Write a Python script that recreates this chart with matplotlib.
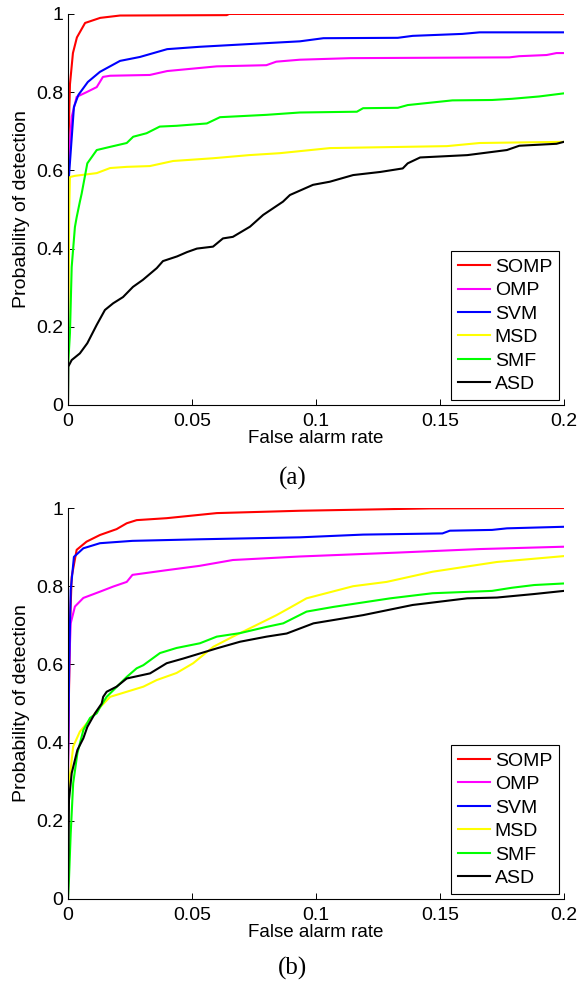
import numpy as np
import matplotlib
matplotlib.use("Agg")
import matplotlib.pyplot as plt

plt.rcParams['font.family'] = ['Liberation Sans', 'DejaVu Sans']

methods = ["SOMP", "OMP", "SVM", "MSD", "SMF", "ASD"]
colors = ["#ff0000", "#ff00ff", "#0000ff", "#ffff00", "#00ff00", "#000000"]

x_ticks = [0, 0.05, 0.1, 0.15, 0.2]
x_ticklabels = ["0", "0.05", "0.1", "0.15", "0.2"]
y_ticks = [0, 0.2, 0.4, 0.6, 0.8, 1]
y_ticklabels = ["0", "0.2", "0.4", "0.6", "0.8", "1"]

# ---- panel (a) ----
somp_a_x = [0, 0, 0.0008, 0.002, 0.0036, 0.0069, 0.013, 0.021, 0.064, 0.065, 0.2]
somp_a_y = [0, 0.62, 0.82, 0.9, 0.94, 0.977, 0.99, 0.996, 0.997, 1.0, 1.0]

omp_a_x = [0, 0, 0.0015, 0.0035, 0.0075, 0.0116, 0.0141, 0.017, 0.033, 0.040, 0.060,
           0.080, 0.084, 0.0935, 0.114, 0.178, 0.182, 0.193, 0.197, 0.2]
omp_a_y = [0, 0.6, 0.737, 0.788, 0.80, 0.813, 0.839, 0.842, 0.844, 0.854, 0.866,
           0.869, 0.878, 0.883, 0.887, 0.889, 0.892, 0.895, 0.9, 0.9]

svm_a_x = [0, 0, 0.0024, 0.0042, 0.008, 0.0129, 0.021, 0.029, 0.040, 0.053, 0.073,
           0.0935, 0.103, 0.133, 0.139, 0.159, 0.166, 0.2]
svm_a_y = [0, 0.55, 0.762, 0.793, 0.826, 0.852, 0.88, 0.89, 0.91, 0.916, 0.923,
           0.93, 0.938, 0.939, 0.944, 0.949, 0.953, 0.953]

msd_a_x = [0, 0, 0.0003, 0.0005, 0.0008, 0.0028, 0.0116, 0.017, 0.0237, 0.033, 0.0424,
           0.0585, 0.073, 0.0855, 0.1056, 0.1528, 0.166, 0.2]
msd_a_y = [0, 0.1, 0.3, 0.5, 0.583, 0.586, 0.593, 0.606, 0.609, 0.611, 0.624,
           0.631, 0.639, 0.644, 0.657, 0.662, 0.67, 0.673]

smf_a_x = [0, 0.0001, 0.0008, 0.0015, 0.0028, 0.0035, 0.0048, 0.0055, 0.0078, 0.0116,
           0.0169, 0.0237, 0.0263, 0.0317, 0.037, 0.0438, 0.056, 0.0613, 0.080, 0.0935,
           0.1165, 0.119, 0.133, 0.137, 0.155, 0.171, 0.179, 0.19, 0.2]
smf_a_y = [0, 0.107, 0.184, 0.353, 0.455, 0.48, 0.52, 0.54, 0.618, 0.652,
           0.66, 0.67, 0.686, 0.695, 0.712, 0.714, 0.72, 0.736, 0.742, 0.748,
           0.75, 0.759, 0.76, 0.767, 0.779, 0.78, 0.783, 0.789, 0.797]

asd_a_x = [0, 0.0001, 0.0015, 0.0048, 0.0078, 0.0116, 0.0149, 0.0182, 0.0222, 0.0262,
           0.0302, 0.0358, 0.0383, 0.044, 0.048, 0.052, 0.0585, 0.0625, 0.0665, 0.0734,
           0.0787, 0.0867, 0.0895, 0.0988, 0.1056, 0.115, 0.126, 0.135, 0.137, 0.142,
           0.161, 0.177, 0.182, 0.197, 0.2]
asd_a_y = [0, 0.098, 0.115, 0.132, 0.158, 0.205, 0.243, 0.26, 0.276, 0.302,
           0.32, 0.35, 0.368, 0.38, 0.391, 0.40, 0.405, 0.426, 0.43, 0.456,
           0.486, 0.52, 0.537, 0.563, 0.571, 0.588, 0.596, 0.605, 0.618, 0.633,
           0.639, 0.652, 0.663, 0.668, 0.673]

# ---- panel (b) ----
somp_b_x = [0, 0, 0.0008, 0.0015, 0.0035, 0.0075, 0.0129, 0.0196, 0.0237, 0.0277,
            0.0398, 0.06, 0.0935, 0.146, 0.2]
somp_b_y = [0, 0.35, 0.7, 0.824, 0.893, 0.914, 0.931, 0.946, 0.961, 0.969,
            0.974, 0.987, 0.993, 0.999, 1.0]

omp_b_x = [0, 0, 0.0005, 0.0011, 0.0028, 0.0062, 0.0129, 0.0182, 0.0237, 0.026,
           0.0398, 0.053, 0.0665, 0.0935, 0.133, 0.166, 0.2]
omp_b_y = [0, 0.3, 0.6, 0.705, 0.748, 0.77, 0.786, 0.799, 0.811, 0.829,
           0.841, 0.852, 0.867, 0.876, 0.886, 0.895, 0.901]

svm_b_x = [0, 0, 0.0005, 0.0011, 0.0024, 0.0062, 0.0129, 0.026, 0.053, 0.0935,
           0.119, 0.151, 0.154, 0.171, 0.177, 0.2]
svm_b_y = [0, 0.35, 0.6, 0.79, 0.875, 0.897, 0.91, 0.916, 0.92, 0.925,
           0.932, 0.935, 0.942, 0.944, 0.948, 0.952]

msd_b_x = [0, 0, 0.0021, 0.0048, 0.0129, 0.017, 0.0237, 0.0304, 0.0358, 0.0438,
           0.0505, 0.0586, 0.0665, 0.0774, 0.0841, 0.0895, 0.0962, 0.115, 0.1285,
           0.147, 0.173, 0.2]
msd_b_y = [0, 0.27, 0.39, 0.428, 0.49, 0.517, 0.53, 0.543, 0.56, 0.578,
           0.603, 0.645, 0.671, 0.705, 0.726, 0.745, 0.769, 0.80, 0.811,
           0.837, 0.862, 0.877]

smf_b_x = [0, 0.0004, 0.0011, 0.0021, 0.0038, 0.0062, 0.0089, 0.0116, 0.0129, 0.0156,
           0.0237, 0.0277, 0.0304, 0.0371, 0.0438, 0.0532, 0.06, 0.0694, 0.0801, 0.0868,
           0.0962, 0.107, 0.13, 0.147, 0.171, 0.179, 0.188, 0.2]
smf_b_y = [0, 0.05, 0.168, 0.296, 0.373, 0.432, 0.463, 0.475, 0.49, 0.517,
           0.568, 0.59, 0.598, 0.629, 0.642, 0.654, 0.671, 0.68, 0.696, 0.705,
           0.735, 0.747, 0.769, 0.782, 0.788, 0.796, 0.803, 0.807]

asd_b_x = [0, 0.0004, 0.0015, 0.0038, 0.0062, 0.0078, 0.0109, 0.0136, 0.0142, 0.0156,
           0.0196, 0.0237, 0.0331, 0.0398, 0.0465, 0.06, 0.0694, 0.0801, 0.0882, 0.099,
           0.119, 0.139, 0.161, 0.173, 0.188, 0.2]
asd_b_y = [0, 0.253, 0.322, 0.381, 0.411, 0.44, 0.475, 0.50, 0.517, 0.53,
           0.543, 0.564, 0.577, 0.603, 0.615, 0.641, 0.658, 0.671, 0.679, 0.705,
           0.726, 0.752, 0.769, 0.771, 0.78, 0.788]

curves_a = [(somp_a_x, somp_a_y), (omp_a_x, omp_a_y), (svm_a_x, svm_a_y),
            (msd_a_x, msd_a_y), (smf_a_x, smf_a_y), (asd_a_x, asd_a_y)]
curves_b = [(somp_b_x, somp_b_y), (omp_b_x, omp_b_y), (svm_b_x, svm_b_y),
            (msd_b_x, msd_b_y), (smf_b_x, smf_b_y), (asd_b_x, asd_b_y)]


def draw_panel(ax, curves):
	for (xs, ys), name, c in zip(curves, methods, colors):
		ax.plot(xs, ys, color=c, linewidth=1.5, label=name)

	ax.set_xlim(0, 0.2)
	ax.set_ylim(0, 1)
	ax.set_xticks(x_ticks)
	ax.set_xticklabels(x_ticklabels)
	ax.set_yticks(y_ticks)
	ax.set_yticklabels(y_ticklabels)
	ax.tick_params(direction="in", length=4, width=0.7, labelsize=14)
	ax.tick_params(axis="x", pad=6)
	ax.tick_params(axis="y", pad=3.5)
	for side in ("top", "right"):
		ax.spines[side].set_visible(False)
	for side in ("left", "bottom"):
		ax.spines[side].set_linewidth(0.8)

	ax.set_xlabel("False alarm rate", fontsize=13.5, labelpad=0)
	ax.set_ylabel("Probability of detection", fontsize=14, labelpad=4)

	leg = ax.legend(loc="lower right", bbox_to_anchor=(0.99, 0.013), borderaxespad=0,
				fontsize=14, fancybox=False, edgecolor="black", framealpha=1,
				handlelength=1.65, handletextpad=0.25, labelspacing=0.3,
				borderpad=0.35)
	leg.get_frame().set_linewidth(0.8)


fig = plt.figure(figsize=(5.79, 9.83), dpi=100)
ax_a = fig.add_axes([0.1174, 0.588, 0.8566, 0.3978])
ax_b = fig.add_axes([0.1174, 0.0855, 0.8566, 0.3977])

draw_panel(ax_a, curves_a)
draw_panel(ax_b, curves_b)

fig.text(293 / 579, 1 - 478 / 983, "(a)", ha="center", va="center",
		fontsize=18, family="Liberation Serif")
fig.text(293 / 579, 1 - 968 / 983, "(b)", ha="center", va="center",
		fontsize=18, family="Liberation Serif")

fig.savefig("out.png", dpi=100)
